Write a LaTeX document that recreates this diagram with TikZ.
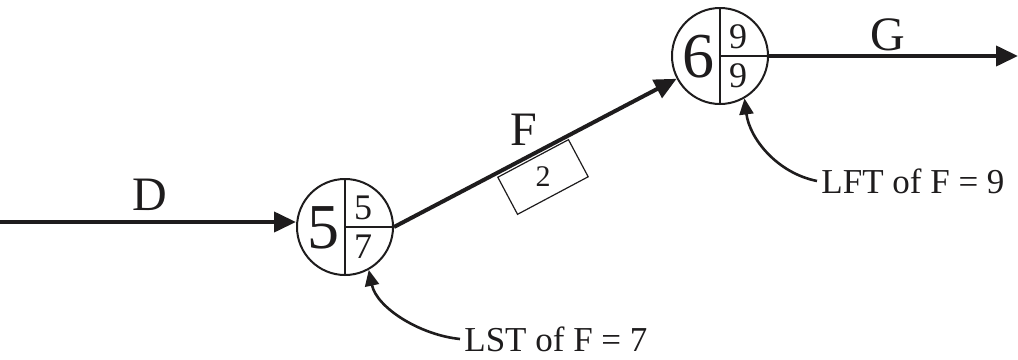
\documentclass[tikz,border=0pt]{standalone}
\usepackage{fontspec}
\setmainfont{Liberation Serif}
\usetikzlibrary{arrows.meta,positioning,calc}
\definecolor{Ink}{HTML}{1E1C1D}
\tikzset{
  event/.style={circle,draw=Ink,line width=1pt,minimum size=48pt,inner sep=0pt},
  split/.style={draw=Ink,line width=0.9pt},
  bignum/.style={font=\fontsize{32}{32}\selectfont,text=Ink,inner sep=0pt},
  smallnum/.style={font=\fontsize{18}{18}\selectfont,text=Ink,inner sep=0pt},
  actlabel/.style={font=\fontsize{24}{24}\selectfont,text=Ink},
  arrow/.style={-{Triangle[length=11pt,width=10pt]},line width=2pt,draw=Ink},
  durbox/.style={draw=Ink,line width=0.6pt,minimum width=40pt,minimum height=21pt,inner sep=0pt},
  durtext/.style={font=\fontsize{15}{15}\selectfont,text=Ink},
  note/.style={font=\fontsize{17.5}{20}\selectfont,text=Ink,inner sep=2pt},
  callout/.style={-{Triangle[length=8pt,width=7pt]},line width=1.3pt,draw=Ink}
}

\begin{document}
\begin{tikzpicture}[x=0.5pt,y=-0.5pt]
  \useasboundingbox (0,0) rectangle (1018,359);
  \node[event] (ev5) at (345,227) {};
  \node[event] (ev6) at (720,56) {};
  \foreach \ev/\en/\ea/\eb in {ev5/5/5/7,ev6/6/9/9}{
    \draw[split] (\ev.north) -- (\ev.south) (\ev.center) -- (\ev.east);
    \node[bignum] at ($(\ev.center)+(-22,1)$) {\en};
    \node[smallnum] at ($(\ev.center)+(18,-19)$) {\ea};
    \node[smallnum] at ($(\ev.center)+(18,20)$) {\eb};
  }
  \coordinate (start) at (0,222);
  \coordinate (end) at (1018,56);
  \draw[arrow] (start) -- (start -| ev5.west);
  \draw[arrow] (ev5.east) -- (ev6);
  \draw[arrow] (ev6.east) -- (end);
  \node[actlabel] (ld) at (150,195) {D};
  \node[actlabel] (lf) at (524,130) {F};
  \node[actlabel] (lg) at (888,35) {G};
  \node[durbox,rotate=28] (dur) at (543,177) {};
  \node[durtext] at (dur.center) {2};
  \node[note,anchor=west] (lst) at (460,339) {LST of F = 7};
  \node[note,anchor=west] (lft) at (817,181) {LFT of F = 9};
  \draw[callout] (lst.west) .. controls +(-40,-4) and +(8,38) .. (ev5.-61);
  \draw[callout] (lft.west) .. controls +(-40,-8) and +(5,40) .. (ev6.-60);
\end{tikzpicture}
\end{document}
